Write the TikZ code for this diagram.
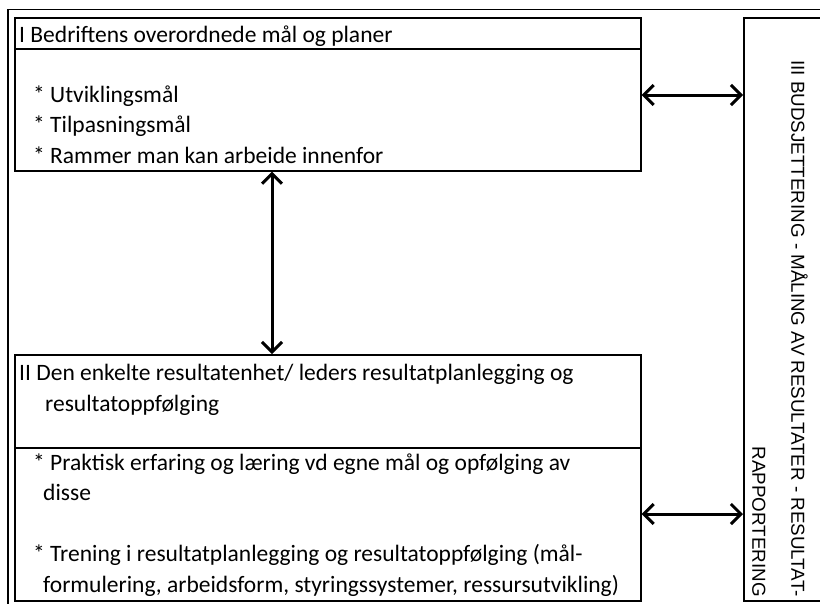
\documentclass[tikz,border=0pt]{standalone}
\usepackage{fontspec}
\setmainfont{Carlito}
\newfontfamily\capsfont{Liberation Sans}
\usetikzlibrary{arrows.meta}

\tikzstyle{part} = [
    rectangle,
    anchor=north west,
    minimum width=626,
    inner sep=0pt,
    line width=1.6pt,
    draw=black
]
\tikzstyle{words} = [
    anchor=base west,
    align=left,
    inner sep=0pt,
    font=\fontsize{23.5}{30.5}\selectfont
]
\tikzstyle{link} = [
    line width=3pt,
    {Straight Barb[length=10pt,width=20pt]}-{Straight Barb[length=10pt,width=20pt]}
]

\begin{document}
\begin{tikzpicture}[x=1pt, y=-1pt]

\clip (0,0) rectangle (820,603);

% outer frame
\draw [line width=1.4pt] (8,9.5) rectangle (840,640);

\node (goalhead) [part, minimum height=31] at (14,17) {};
\node (goalbody) [part, minimum height=122] at (14,48) {};
\node (unithead) [part, minimum height=93] at (14,354) {};
\node (unitbody) [part, minimum height=153] at (14,447) {};
\node (budget) [part, minimum width=120, minimum height=583] at (743,17) {};

% base of a multi-line node = its last line
\node (goaltitle) [words] at (19,42)
{I Bedriftens overordnede mål og planer};

\node (goallist) [words] at (33,163)
{* Utviklingsmål\\
 * Tilpasningsmål\\
 * Rammer man kan arbeide innenfor};

\node (unittitle) [words] at (19,411)
{II Den enkelte resultatenhet/ leders resultatplanlegging og\\
 \hspace*{26pt}resultatoppfølging};

\node (unitlist) [words] at (33,592)
{* Praktisk erfaring og læring vd egne mål og opfølging av\\
 \hspace*{10pt}disse\\[30.5pt]
 * Trening i resultatplanlegging og resultatoppfølging (mål-\\
 \hspace*{10pt}formulering, arbeidsform, styringssystemer, ressursutvikling)};

\node (budgettext) [align=right, inner sep=0pt, rotate=-90, anchor=north east,
    font=\capsfont\fontsize{18.8}{39}\selectfont] at (808,597)
{III BUDSJETTERING - MÅLING AV RESULTATER - RESULTAT-\\
 RAPPORTERING};

\draw [link] (goalbody.east |- 0,95) -- (budget.west |- 0,95);
\draw [link] (goalbody.south -| 272,0) -- (unithead.north -| 272,0);
\draw [link] (unitbody.east |- 0,514) -- (budget.west |- 0,514);

\end{tikzpicture}
\end{document}
